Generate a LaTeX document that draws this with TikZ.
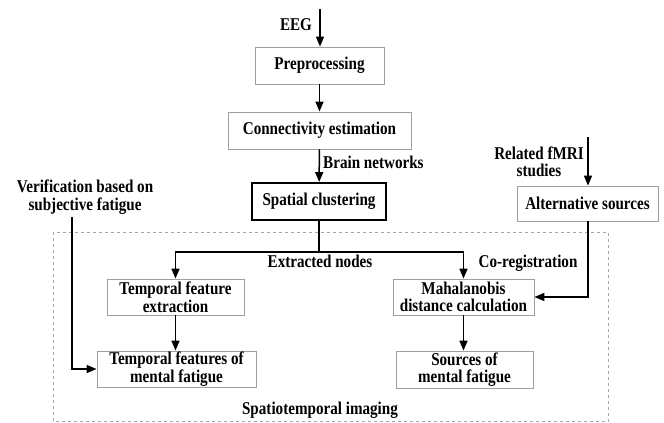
\documentclass[tikz,border=0pt]{standalone}
\usepackage{fontspec}
\setmainfont{Liberation Serif}[FakeStretch=0.84]
\usetikzlibrary{arrows.meta}
\usetikzlibrary{positioning}
\tikzset{
  box/.style={draw=gray!75, line width=0.8pt, rectangle, align=center, inner sep=0pt},
  bigbox/.style={draw=black, line width=1.8pt, rectangle, align=center, inner sep=0pt},
  arr/.style={line width=1.5pt, -{Triangle[length=10pt,width=8pt]}},
  lbl/.style={align=center, inner sep=0pt},
}
\begin{document}
\begin{tikzpicture}[x=1pt,y=-1pt,font=\fontsize{18}{17.5}\selectfont\bfseries]
  \useasboundingbox (0,0) rectangle (664,423);

  % spatiotemporal frame
  \draw[gray!70, dashed, line width=0.7pt] (53,232) rectangle (608,421.5);

  % main chain
  \node[box, minimum width=129, minimum height=37] (pre) at (319.5,65.5) {Preprocessing};
  \node[box, minimum width=183, minimum height=37] (conn) at (319.5,130.5) {Connectivity estimation};
  \node[bigbox, minimum width=134, minimum height=37] (spat) at (319,201.5) {Spatial clustering};
  \node[box, minimum width=141, minimum height=35] (alt) at (587.5,203.5) {Alternative sources};

  \node[box, minimum width=137, minimum height=36] (tfe) at (175.5,297) {Temporal feature\\extraction};
  \node[box, minimum width=141, minimum height=36] (mah) at (463.5,297) {Mahalanobis\\distance calculation};
  \node[box, minimum width=159, minimum height=36] (tfm) at (176.5,369) {Temporal features of\\mental fatigue};
  \node[box, minimum width=137, minimum height=37] (src) at (464.5,369.5) {Sources of\\mental fatigue};

  % labels
  \node[lbl] (eeg) at (296,25) {EEG};
  \node[lbl, anchor=west] (brain) at (323,162) {Brain networks};
  \node[lbl] (ver) at (85,197) {Verification based on\\subjective fatigue};
  \node[lbl] (fmri) at (539,162) {Related fMRI\\studies};
  \node[lbl] (ext) at (320,261) {Extracted nodes};
  \node[lbl] (coreg) at (528,263) {Co-registration};
  \node[lbl] (sti) at (320,410) {Spatiotemporal imaging};

  \coordinate (eegin) at (320,9);
  \coordinate (vstart) at (72,217);
  \coordinate (fstart) at (588,137);

  % connectors
  \draw[arr] (eegin) -- (pre.north -| eegin);
  \draw[arr] (pre) -- (conn);
  \draw[arr] (conn) -- (spat);
  \draw[arr] (spat.south) -- ++(0,31) -| (tfe.north);
  \draw[arr] (spat.south) -- ++(0,31) -| (mah.north);
  \draw[arr] (tfe) -- (tfm.north -| tfe);
  \draw[arr] (mah) -- (src.north -| mah);
  \draw[arr] (vstart) |- (tfm.west);
  \draw[arr] (fstart) -- (alt.north -| fstart);
  \draw[arr] (alt.south -| fstart) |- (mah.east);

\end{tikzpicture}
\end{document}
